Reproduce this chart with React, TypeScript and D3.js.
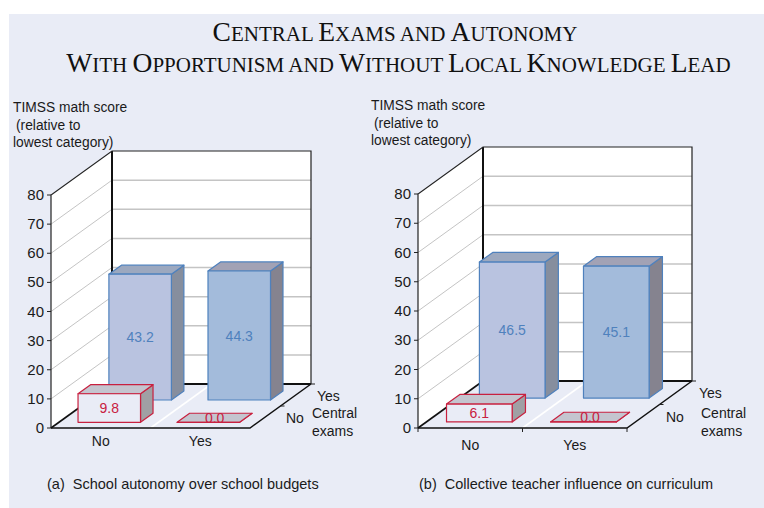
import * as d3 from 'd3'

const titleLines = ['Central Exams and Autonomy', 'With Opportunism and Without Local Knowledge Lead']
const titleBig = /[A-Z]/

const yTicks = [0, 10, 20, 30, 40, 50, 60, 70, 80]
const autonomy = ['No', 'Yes']
const centralExams = ['No', 'Yes']

// values: [central exams row][autonomy column]
const budgetNoExams = [9.8, 0.0]
const budgetExams = [43.2, 44.3]
const curriculumNoExams = [6.1, 0.0]
const curriculumExams = [46.5, 45.1]

const budgetValues = [budgetNoExams, budgetExams]
const curriculumValues = [curriculumNoExams, curriculumExams]

const bg = '#e9ecf6'
const font = '"Liberation Sans", Arial, sans-serif'

type PanelProps = {
  x0: number, x1: number, y0: number, y80: number, dx: number, dy: number,
  values: number[][],
  axisTitle: { x: number, y: number },
  xLabelY: number,
  xTicks: boolean,
  depthLabels: { yes: number[], no: number[], cen: number[] },
  caption: string, captionX: number,
}

const barStyles = [
  [
    { face: bg, top: '#c4c5cf', side: '#a0a0a4', stroke: '#c8203f', text: '#c8203f' },
    { face: bg, top: '#c4c5cf', side: '#a0a0a4', stroke: '#c8203f', text: '#c8203f' },
  ],
  [
    { face: '#b9c3e0', top: '#9ca8bf', side: '#868e9e', stroke: '#4f81bd', text: '#4f81bd' },
    { face: '#a3bbdb', top: '#a2a2b5', side: '#85838f', stroke: '#4f81bd', text: '#4f81bd' },
  ],
]

const Panel = ({ x0, x1, y0, y80, dx, dy, values, axisTitle, xLabelY, xTicks, depthLabels, caption, captionX }: PanelProps) => {
  const y = d3.scaleLinear().domain([0, 80]).range([0, y0 - y80])
  const u = d3.scaleLinear().domain([0, 1]).range([0, x1 - x0])
  const colBand = d3.scaleBand().domain(autonomy).range([0, 1])
  const rowBand = d3.scaleBand().domain(centralExams).range([0, 1])

  // project floor coords (u across, t into the picture) and a height to the screen
  const px = (a: number, t: number) => x0 + u(a) + dx * t
  const py = (t: number, h: number) => y0 + dy * t - y(h)
  const pt = (a: number, t: number, h: number) => `${px(a, t)},${py(t, h)}`
  const poly = (pts: [number, number, number][]) => pts.map(p => pt(p[0], p[1], p[2])).join(' ')

  return (
    <g fontFamily={font} fontSize={14} fill='#1a1a1a'>
      {/* back wall, left wall, floor */}
      <polygon points={poly([[0, 1, 0], [1, 1, 0], [1, 1, 80], [0, 1, 80]])} fill='#fff' />
      <polygon points={poly([[0, 0, 0], [0, 1, 0], [0, 1, 80], [0, 0, 80]])} fill='#fff' />
      <polygon points={poly([[0, 0, 0], [1, 0, 0], [1, 1, 0], [0, 1, 0]])} fill={bg} />

      {yTicks.slice(1, -1).map(t => (
        <g key={t} fill='none' stroke='#c4c4c4'>
          <polyline points={poly([[0, 0, t], [0, 1, t]])} strokeWidth={1} />
          <polyline points={poly([[0, 1, t], [1, 1, t]])} strokeWidth={1.5} />
        </g>
      ))}

      <polyline points={poly([[0.5, 0, 0], [0.5, 1, 0]])} stroke='#fff' strokeWidth={1.6} fill='none' />
      <polyline points={poly([[0, 1, 0], [1, 1, 0]])} stroke='#111' strokeWidth={1.8} fill='none' />
      <polyline points={poly([[0, 1, 0], [0, 1, 80]])} stroke='#111' strokeWidth={2} fill='none' />
      <polyline points={poly([[1, 1, 0], [1, 1, 80], [0, 1, 80], [0, 0, 80], [0, 0, 0]])} stroke='#222' strokeWidth={1.2} fill='none' />
      <polyline points={poly([[0, 0, 0], [0, 1, 0]])} stroke='#111' strokeWidth={1.6} fill='none' />

      {/* bars, back row first */}
      {[1, 0].map(r => autonomy.map((c, i) => {
        const v = values[r][i]
        const a0 = colBand(c)! + 0.096 - (i ? 0.002 : 0)
        const a1 = a0 + 0.314
        const t0 = rowBand(centralExams[r])! + 0.13 + (r ? 0.006 : 0)
        const t1 = t0 + 0.205
        const s = barStyles[r][i]
        const label = v.toFixed(1)
        return (
          <g key={`${r}-${c}`} stroke={s.stroke} strokeWidth={1.2} strokeLinejoin='round'>
            <polygon points={poly([[a1, t0, 0], [a1, t1, 0], [a1, t1, v], [a1, t0, v]])} fill={s.side} />
            <polygon points={poly([[a0, t0, v], [a1, t0, v], [a1, t1, v], [a0, t1, v]])} fill={s.top} />
            <polygon points={poly([[a0, t0, 0], [a1, t0, 0], [a1, t0, v], [a0, t0, v]])} fill={s.face} />
            <text
              x={px((a0 + a1) / 2, v === 0 ? (t0 + t1) / 2 : t0)}
              y={py(v === 0 ? (t0 + t1) / 2 : t0, v / 2) + 5}
              textAnchor='middle' fill={s.text} stroke='none'
            >{label}</text>
          </g>
        )
      }))}

      {/* front axis lines drawn over the floor */}
      <polyline points={poly([[0, 0, 0], [1, 0, 0], [1, 1, 0]])} stroke='#111' strokeWidth={1.5} fill='none' />

      {yTicks.map(t => (
        <g key={t}>
          <line x1={x0 - 4} x2={x0} y1={py(0, t)} y2={py(0, t)} stroke='#222' />
          <text x={x0 - 7} y={py(0, t) + 5} textAnchor='end' fontSize={15}>{t}</text>
        </g>
      ))}
      {xTicks && [0, 0.5, 1].map(a => (
        <line key={a} x1={px(a, 0)} x2={px(a, 0)} y1={y0} y2={y0 + 4} stroke='#222' />
      ))}
      <line x1={px(1, 0.5)} x2={px(1, 0.5) + 4} y1={py(0.5, 0)} y2={py(0.5, 0)} stroke='#222' />
      <line x1={px(1, 1)} x2={px(1, 1) + 4} y1={py(1, 0)} y2={py(1, 0)} stroke='#222' />

      {autonomy.map(c => (
        <text key={c} x={px(colBand(c)! + 0.25, 0)} y={xLabelY} textAnchor='middle'>{c}</text>
      ))}
      <text x={depthLabels.yes[0]} y={depthLabels.yes[1]}>Yes</text>
      <text x={depthLabels.no[0]} y={depthLabels.no[1]}>No</text>
      <text x={depthLabels.cen[0]} y={depthLabels.cen[1]}>Central</text>
      <text x={depthLabels.cen[0]} y={depthLabels.cen[1] + 18}>exams</text>

      <g fontSize={13.8}>
        <text x={axisTitle.x} y={axisTitle.y}>TIMSS math score</text>
        <text x={axisTitle.x + 3} y={axisTitle.y + 18}>(relative to</text>
        <text x={axisTitle.x} y={axisTitle.y + 35}>lowest category)</text>
      </g>

      <text x={captionX} y={489} fontSize={14.5} xmlSpace='preserve'>{caption}</text>
    </g>
  )
}

const App = () => (
  <svg width={764} height={508} style={{ position: 'absolute', left: 0, top: 0, background: '#fff' }}>
    <rect x={9} y={14} width={755} height={494} fill={bg} />
    <g fontFamily='"Liberation Serif", "Times New Roman", serif' textAnchor='middle' fill='#111'>
      {titleLines.map((line, i) => (
        <text key={i} x={i ? 398.5 : 395} y={41 + i * 30.5} fontSize={27.5}>
          {line.split('').map((ch, j) => titleBig.test(ch)
            ? <tspan key={j}>{ch}</tspan>
            : <tspan key={j} fontSize={21}>{ch.toUpperCase()}</tspan>)}
        </text>
      ))}
    </g>
    <Panel
      x0={51} x1={250} y0={428} y80={195} dx={61} dy={-44}
      values={budgetValues}
      axisTitle={{ x: 13, y: 112 }}
      xLabelY={446} xTicks={false}
      depthLabels={{ yes: [317, 401], no: [286, 423], cen: [312, 418] }}
      caption='(a)  School autonomy over school budgets' captionX={47}
    />
    <Panel
      x0={418} x1={627} y0={428} y80={194} dx={65} dy={-47}
      values={curriculumValues}
      axisTitle={{ x: 371, y: 110 }}
      xLabelY={450} xTicks={true}
      depthLabels={{ yes: [699, 398], no: [666, 422], cen: [701, 418] }}
      caption='(b)  Collective teacher influence on curriculum' captionX={419}
    />
  </svg>
)

export default App
